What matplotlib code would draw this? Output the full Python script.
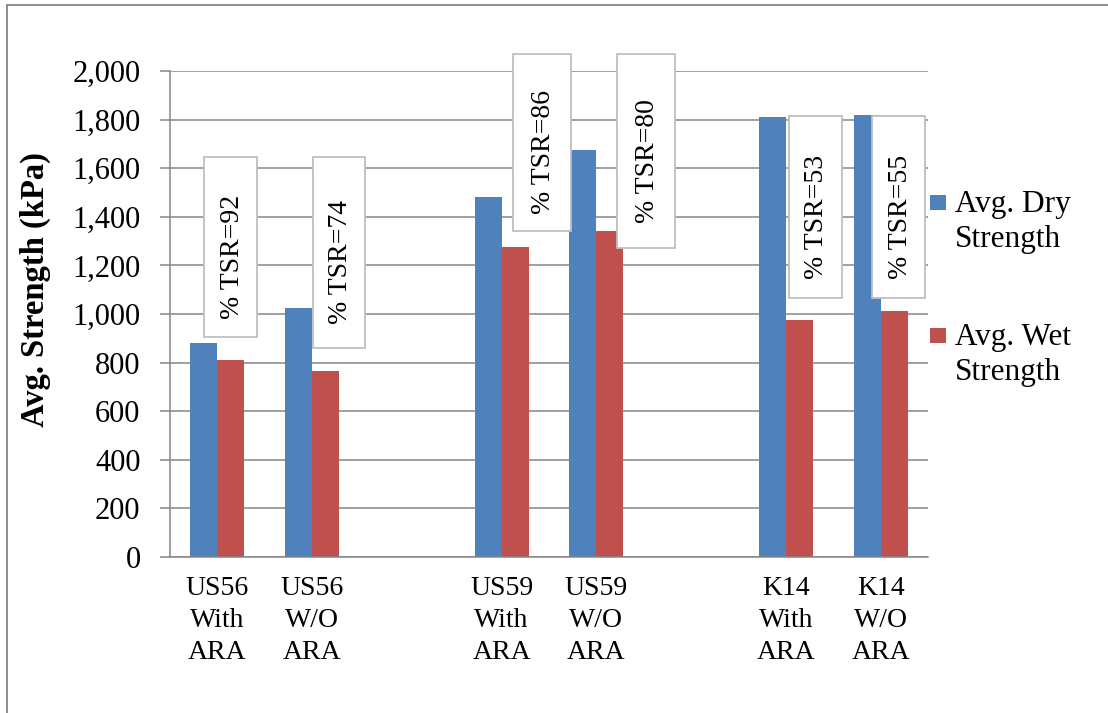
import matplotlib
matplotlib.use("Agg")
import matplotlib.pyplot as plt
from matplotlib.patches import Rectangle
from matplotlib.lines import Line2D
import numpy as np

# category slots (empty slots separate the road sections)
categories = ["US56\nWith\nARA", "US56\nW/O\nARA", "",
              "US59\nWith\nARA", "US59\nW/O\nARA", "",
              "K14\nWith\nARA", "K14\nW/O\nARA"]
dry_strength = [880, 1025, None, 1481, 1675, None, 1811, 1819]
wet_strength = [810, 765, None, 1276, 1342, None, 975, 1012]
tsr_values = [92, 74, 86, 80, 53, 55]

# TSR text boxes: (x0, x1) in slot units, (y0, y1) in kPa
tsr_boxes = [(-0.14, 0.42, 905, 1646), (1.01, 1.56, 860, 1646),
             (3.12, 3.73, 1342, 2070), (4.22, 4.83, 1272, 2070),
             (6.03, 6.59, 1066, 1815), (6.91, 7.47, 1066, 1815)]

BLUE = "#4F81BD"
RED = "#C0504D"
GRID = "#868686"

plt.rcParams["font.family"] = ["Liberation Serif", "DejaVu Serif"]

fig = plt.figure(figsize=(11.08, 7.13), dpi=100)
ax = fig.add_axes([170 / 1108, 1 - 557 / 713, 758 / 1108, 486 / 713])

x = np.arange(len(categories))
w = 0.285
dry = np.array([np.nan if v is None else v for v in dry_strength], dtype=float)
wet = np.array([np.nan if v is None else v for v in wet_strength], dtype=float)
ax.bar(x - w / 2, dry, w, color=BLUE, zorder=2)
ax.bar(x + w / 2, wet, w, color=RED, zorder=2)

ax.set_xlim(-0.5, len(categories) - 0.5)
ax.set_ylim(0, 2000)
ax.set_yticks(np.arange(0, 2001, 200))
ax.set_yticklabels([f"{v:,}" for v in range(0, 2001, 200)])
ax.set_xticks(x)
ax.set_xticklabels(categories, fontsize=20)
for lbl in ax.get_xticklabels():
    lbl.set_linespacing(1.35)
ax.tick_params(axis="x", length=0, pad=14)
ax.tick_params(axis="y", labelsize=22, length=7.2, width=1.1, color=GRID, pad=14)

ax.yaxis.grid(True, color=GRID, linewidth=1.1, zorder=0)
ax.set_axisbelow(True)
for side in ["top", "right"]:
    ax.spines[side].set_visible(False)
for side in ["left", "bottom"]:
    ax.spines[side].set_color(GRID)
    ax.spines[side].set_linewidth(1.1)

# TSR annotation boxes (text sits a little below the box centre)
for (x0, x1, y0, y1), tsr in zip(tsr_boxes, tsr_values):
    ax.add_patch(Rectangle((x0, y0), x1 - x0, y1 - y0, facecolor="white",
                           edgecolor="#BFBFBF", linewidth=1.3, zorder=4,
                           clip_on=False))
    ax.annotate(f"% TSR={tsr}", xy=((x0 + x1) / 2, (y0 + y1) / 2),
                xytext=(1, -7), textcoords="offset points", rotation=90,
                ha="center", va="center", fontsize=20, zorder=5,
                annotation_clip=False)

# y label
fig.text(35 / 1108, 1 - 290 / 713, "Avg. Strength (kPa)", rotation=90,
         ha="center", va="center", fontsize=23.5, fontweight="bold")

# legend
for color, label, top in [(BLUE, "Avg. Dry\nStrength", 195),
                          (RED, "Avg. Wet\nStrength", 328)]:
    fig.patches.append(Rectangle((930 / 1108, 1 - (top + 15) / 713), 16 / 1108,
                                 15 / 713, transform=fig.transFigure,
                                 facecolor=color, edgecolor="none"))
    fig.text(955 / 1108, 1 - (top + 27) / 713, label, ha="left", va="center",
             fontsize=22.5, linespacing=1.3)

# outer frame of the chart area
fig.add_artist(Line2D([6.5 / 1108, 6.5 / 1108], [0, 1 - 5 / 713],
                      transform=fig.transFigure, color=GRID, linewidth=1.3))
fig.add_artist(Line2D([6.5 / 1108, 1], [1 - 5 / 713, 1 - 5 / 713],
                      transform=fig.transFigure, color=GRID, linewidth=1.3))

fig.savefig("out.png", dpi=100)
